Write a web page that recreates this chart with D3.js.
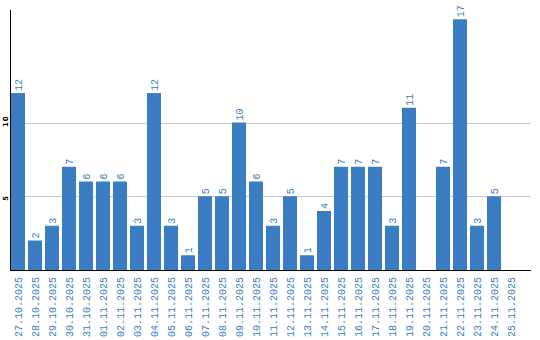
<!DOCTYPE html>
<html><head><meta charset="utf-8">
<script src="https://cdn.jsdelivr.net/npm/d3@7"></script>
<style>
html,body{margin:0;padding:0;background:#fff;}
svg{display:block;}
text{-webkit-font-smoothing:none;}
</style>
</head><body>
<svg id="c" width="540" height="340"></svg>
<script>
const categories = ["27.10.2025","28.10.2025","29.10.2025","30.10.2025","31.10.2025","01.11.2025","02.11.2025","03.11.2025","04.11.2025","05.11.2025","06.11.2025","07.11.2025","08.11.2025","09.11.2025","10.11.2025","11.11.2025","12.11.2025","13.11.2025","14.11.2025","15.11.2025","16.11.2025","17.11.2025","18.11.2025","19.11.2025","20.11.2025","21.11.2025","22.11.2025","23.11.2025","24.11.2025","25.11.2025"];
const values = [12,2,3,7,6,6,6,3,12,3,1,5,5,10,6,3,5,1,4,7,7,7,3,11,0,7,17,3,5,0];
const yTicks = [5,10];

const blue = "#3a7dc3";
const svg = d3.select("#c");
const x = d3.scaleBand().domain(categories).range([11, 518]).paddingInner(3/17).paddingOuter(0);
const y = d3.scaleLinear().domain([0, 17.63]).range([270, 10]);

// gridlines
svg.append("g").selectAll("line").data(yTicks).join("line")
  .attr("x1", 11).attr("x2", 531)
  .attr("y1", d => Math.round(y(d)) + 0.5).attr("y2", d => Math.round(y(d)) + 0.5)
  .attr("stroke", "#c8c8c8").attr("stroke-width", 1);

// y tick labels
svg.append("g").selectAll("text").data(yTicks).join("text")
  .attr("transform", d => `translate(7.5,${y(d) + 4.5}) rotate(-90)`)
  .attr("text-anchor", "start")
  .attr("font-family", "DejaVu Sans")
  .attr("font-weight", "bold")
  .attr("font-size", 7)
  .attr("letter-spacing", 1)
  .attr("fill", "#000")
  .text(d => d);

// bars
const data = categories.map((c, i) => ({c, v: values[i]}));
svg.append("g").selectAll("rect").data(data.filter(d => d.v > 0)).join("rect")
  .attr("x", d => x(d.c)).attr("width", x.bandwidth())
  .attr("y", d => y(d.v)).attr("height", d => y(0) - y(d.v))
  .attr("fill", blue);

// value labels
svg.append("g").selectAll("text").data(data.filter(d => d.v > 0)).join("text")
  .attr("transform", d => `translate(${x(d.c) + x.bandwidth()/2},${y(d.v) - 2}) rotate(-90)`)
  .attr("dy", "0.35em")
  .attr("text-anchor", "start")
  .attr("font-family", "Liberation Mono")
  .attr("font-size", 10)
  .attr("fill", blue)
  .text(d => d.v);

// axes lines
svg.append("line").attr("x1", 10.5).attr("x2", 10.5).attr("y1", 10).attr("y2", 271)
  .attr("stroke", "#000").attr("stroke-width", 1);
svg.append("line").attr("x1", 10).attr("x2", 531).attr("y1", 270.5).attr("y2", 270.5)
  .attr("stroke", "#000").attr("stroke-width", 1);

// category labels
svg.append("g").selectAll("text").data(categories).join("text")
  .attr("transform", d => `translate(${x(d) + x.bandwidth()/2},277) rotate(-90)`)
  .attr("dy", "0.35em")
  .attr("text-anchor", "end")
  .attr("font-family", "Liberation Mono")
  .attr("font-size", 10)
  .attr("fill", blue)
  .text(d => d);
</script>
</body></html>
